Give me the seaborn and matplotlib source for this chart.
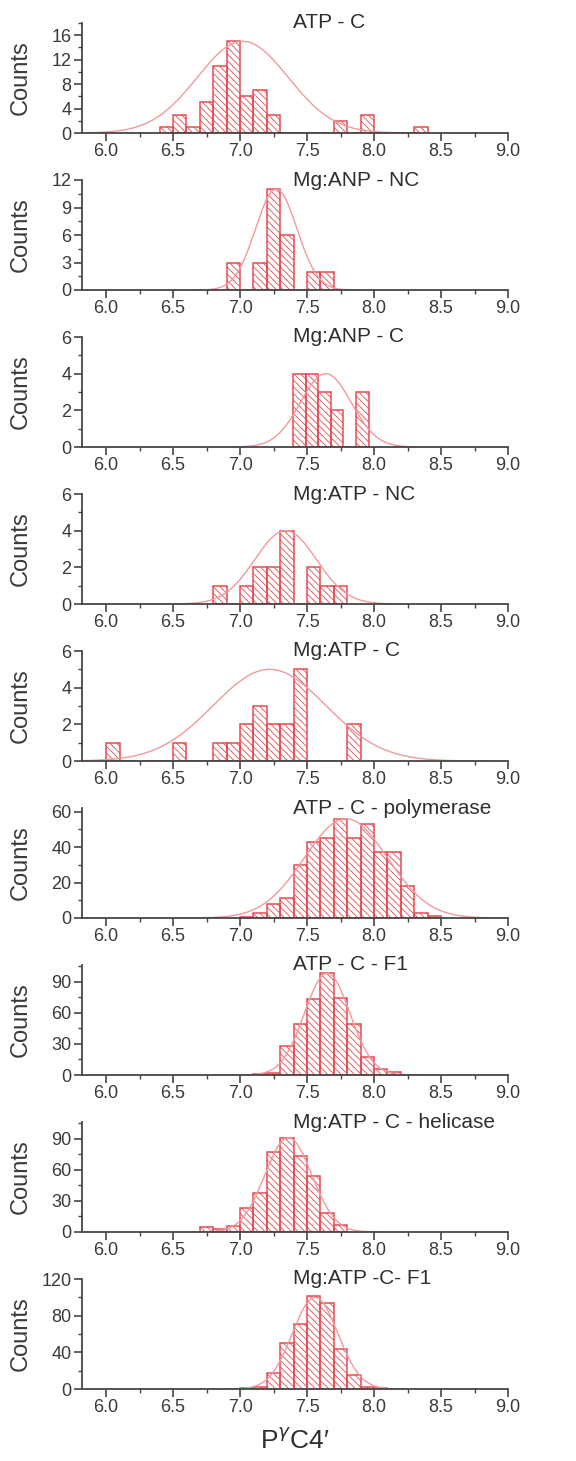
import numpy as np
import matplotlib
matplotlib.use("Agg")
import matplotlib.pyplot as plt
import seaborn as sns
from matplotlib.ticker import MultipleLocator, FormatStrFormatter

sns.set_style("ticks")
plt.rcParams['font.family'] = ['Liberation Sans', 'DejaVu Sans']
plt.rcParams['hatch.linewidth'] = 0.6

# ===== DATA (bin centres, counts, gaussian fit) =====
titles = ['ATP - C', 'Mg:ANP - NC', 'Mg:ANP - C', 'Mg:ATP - NC', 'Mg:ATP - C',
          'ATP - C - polymerase', 'ATP - C - F1', 'Mg:ATP - C - helicase', 'Mg:ATP -C- F1']

atp_c_x = [6.45, 6.55, 6.65, 6.75, 6.85, 6.95, 7.05, 7.15, 7.25, 7.75, 7.95, 8.35]
atp_c_n = [1, 3, 1, 5, 11, 15, 6, 7, 3, 2, 3, 1]

mganp_nc_x = [6.95, 7.15, 7.25, 7.35, 7.55, 7.65]
mganp_nc_n = [3, 3, 11, 6, 2, 2]

mganp_c_x = [7.442, 7.536, 7.630, 7.724, 7.912]
mganp_c_n = [4, 4, 3, 2, 3]

mgatp_nc_x = [6.85, 7.05, 7.15, 7.25, 7.35, 7.55, 7.65, 7.75]
mgatp_nc_n = [1, 1, 2, 2, 4, 2, 1, 1]

mgatp_c_x = [6.05, 6.55, 6.85, 6.95, 7.05, 7.15, 7.25, 7.35, 7.45, 7.85]
mgatp_c_n = [1, 1, 1, 1, 2, 3, 2, 2, 5, 2]

pol_x = [7.05, 7.15, 7.25, 7.35, 7.45, 7.55, 7.65, 7.75, 7.85, 7.95, 8.05, 8.15, 8.25, 8.35, 8.45]
pol_n = [0.5, 3, 8, 11, 30, 43, 45, 56, 45, 53, 37, 37, 18, 3, 1]

f1_x = [7.15, 7.25, 7.35, 7.45, 7.55, 7.65, 7.75, 7.85, 7.95, 8.05, 8.15]
f1_n = [0.5, 2, 28, 49, 73, 98, 74, 49, 17, 6, 3]

hel_x = [6.75, 6.85, 6.95, 7.05, 7.15, 7.25, 7.35, 7.45, 7.55, 7.65, 7.75]
hel_n = [5, 3, 6, 23, 38, 77, 91, 73, 54, 18, 7]

mgf1_x = [7.05, 7.15, 7.25, 7.35, 7.45, 7.55, 7.65, 7.75, 7.85, 7.95, 8.05]
mgf1_n = [1, 2, 17, 50, 71, 101, 94, 44, 15, 2, 1]

bin_widths = [0.1, 0.1, 0.094, 0.1, 0.1, 0.1, 0.1, 0.1, 0.1]

fit_mu = [7.02, 7.27, 7.64, 7.34, 7.22, 7.79, 7.65, 7.36, 7.56]
fit_sigma = [0.34, 0.155, 0.19, 0.23, 0.42, 0.31, 0.17, 0.175, 0.17]
fit_amp = [15, 11, 4, 4, 5, 56, 98, 91, 100]

y_top = [18, 12, 6, 6, 6, 62, 106, 106, 120]
y_major = [4, 3, 2, 2, 2, 20, 30, 30, 40]

panel_x = [atp_c_x, mganp_nc_x, mganp_c_x, mgatp_nc_x, mgatp_c_x, pol_x, f1_x, hel_x, mgf1_x]
panel_n = [atp_c_n, mganp_nc_n, mganp_c_n, mgatp_nc_n, mgatp_c_n, pol_n, f1_n, hel_n, mgf1_n]

RED = '#e64b53'
FIT = '#f09a9c'
AX = '#454545'
HATCH = '\\\\\\\\\\'

W, H = 576, 1461
fig = plt.figure(figsize=(W / 100, H / 100), dpi=100)

for i in range(9):
    zero_px = 133 + 157 * i
    ax = fig.add_axes([82 / W, 1 - zero_px / H, 426 / W, 110 / H])

    xs = np.array(panel_x[i])
    bw = bin_widths[i]
    sns.histplot(x=xs, weights=panel_n[i], binwidth=bw,
                 binrange=(xs.min() - bw / 2, xs.max() + bw / 2),
                 ax=ax, color=RED, fill=True)
    for p in ax.patches:
        p.set_facecolor((1, 1, 1, 0))
        p.set_edgecolor(RED)
        p.set_hatch(HATCH)
        p.set_linewidth(1.1)

    # gaussian fit curve
    mu, sd, amp = fit_mu[i], fit_sigma[i], fit_amp[i]
    gx = np.linspace(mu - 4 * sd, mu + 4 * sd, 300)
    gy = amp * np.exp(-0.5 * ((gx - mu) / sd) ** 2)
    sns.lineplot(x=gx, y=gy, ax=ax, color=FIT, lw=1.0)

    ax.set_xlim(5.82, 9.0)
    ax.set_ylim(0, y_top[i])
    ax.xaxis.set_major_locator(MultipleLocator(0.5))
    ax.xaxis.set_minor_locator(MultipleLocator(0.25))
    ax.xaxis.set_major_formatter(FormatStrFormatter('%.1f'))
    ax.yaxis.set_major_locator(MultipleLocator(y_major[i]))
    ax.yaxis.set_minor_locator(MultipleLocator(y_major[i] / 2))

    sns.despine(ax=ax)
    for s in ['left', 'bottom']:
        ax.spines[s].set_color(AX)
        ax.spines[s].set_linewidth(1.3)
    ax.tick_params(which='major', direction='out', length=5.5, width=1.2,
                   color=AX, labelcolor='#3a3a3a', labelsize=13, pad=2)
    ax.tick_params(which='minor', direction='out', length=3, width=1.0, color=AX)
    ax.set_facecolor('white')

    ax.set_ylabel('Counts', fontsize=17, color='#3a3a3a')
    ax.yaxis.set_label_coords(-0.117, 0.5)
    ax.set_xlabel('')

    ax.text(0.495, 1.0, titles[i], transform=ax.transAxes, ha='left', va='center',
            fontsize=15, color='#2e2e2e')

ax.set_xlabel(r'P$^{\gamma}$C4′', fontsize=19, color='#2e2e2e', labelpad=8)

fig.savefig('out.png', dpi=100, facecolor='white')
